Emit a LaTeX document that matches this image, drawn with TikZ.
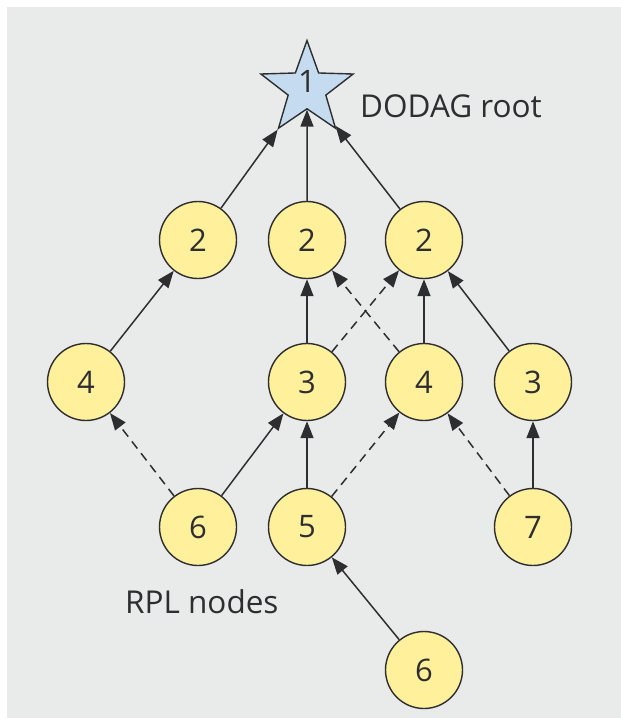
\documentclass[tikz,border=0pt]{standalone}
\usepackage{fontspec}
\setmainfont{Open Sans}
\usetikzlibrary{arrows.meta,shapes.geometric}
\definecolor{bg}{HTML}{E9EAEA}
\definecolor{nodefill}{HTML}{FFF09C}
\definecolor{starfill}{HTML}{C5DCF0}
\definecolor{ink}{HTML}{2E2E30}
\begin{document}
\begin{tikzpicture}[x=1pt,y=-1pt,
  rpl/.style={circle, draw=ink, line width=1.4pt, fill=nodefill, minimum size=77pt, inner sep=0pt, font=\fontsize{31}{36}\selectfont, text=ink},
  root/.style={star, star points=5, star point ratio=2.45, draw=ink, line width=1.4pt, fill=starfill, minimum size=97pt, inner sep=0pt, text height=7.5pt, text depth=0pt, font=\fontsize{31}{36}\selectfont, text=ink},
  lbl/.style={inner sep=0pt, anchor=base west, font=\fontsize{31.5}{36}\selectfont, text=ink},
  link/.style={draw=ink, line width=1.5pt, -{Triangle[length=17pt,width=13pt]}},
  backup/.style={link, dash pattern=on 9pt off 6pt}]
\useasboundingbox (0,0) rectangle (621,718);
\fill[bg] (7,7) rectangle (621,718);
% nodes
\node[root] (r1) at (307,89) {1};
\node[lbl] (lroot) at (360,117) {DODAG root};
\node[rpl] (a2) at (198,240) {2};
\node[rpl] (b2) at (307,240) {2};
\node[rpl] (c2) at (424,240) {2};
\node[rpl] (a4) at (86,382) {4};
\node[rpl] (b3) at (307,382) {3};
\node[rpl] (c4) at (424,382) {4};
\node[rpl] (d3) at (533,382) {3};
\node[rpl] (a6) at (198,527) {6};
\node[rpl] (b5) at (307,527) {5};
\node[rpl] (d7) at (533,527) {7};
\node[rpl] (c6) at (424,670) {6};
\node[lbl] (lrpl) at (125,613) {RPL nodes};
% preferred parents
\draw[link] (a2) -- (r1);
\draw[link] (b2) -- (r1);
\draw[link] (c2) -- (r1);
\draw[link] (a4) -- (a2);
\draw[link] (b3) -- (b2);
\draw[link] (c4) -- (c2);
\draw[link] (d3) -- (c2);
\draw[link] (a6) -- (b3);
\draw[link] (b5) -- (b3);
\draw[link] (d7) -- (d3);
\draw[link] (c6) -- (b5);
% alternative parents
\draw[backup] (b3) -- (c2);
\draw[backup] (c4) -- (b2);
\draw[backup] (a6) -- (a4);
\draw[backup] (b5) -- (c4);
\draw[backup] (d7) -- (c4);
\end{tikzpicture}
\end{document}
